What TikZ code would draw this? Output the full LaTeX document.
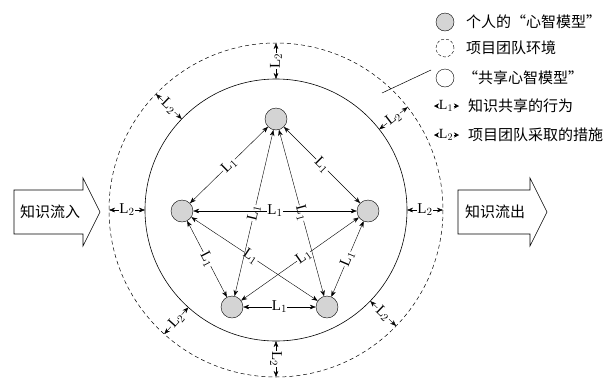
\documentclass[tikz,border=0pt]{standalone}
\usepackage{fontspec}
\setmainfont{Liberation Serif}
\newfontfamily\cjk{Noto Sans CJK SC}
\usetikzlibrary{arrows.meta,calc}
\begin{document}
\begin{tikzpicture}[x=1pt,y=-1pt,
  tip/.style={{Stealth[length=6pt,width=4.6pt]}-{Stealth[length=6pt,width=4.6pt]}},
  mind/.style={circle,draw,fill=black!17,minimum size=22pt,inner sep=0pt},
  lab/.style={fill=white,inner sep=0.4pt,font=\fontsize{15}{15}\selectfont,sloped},
  cn/.style={font=\cjk\fontsize{15}{15}\selectfont,inner sep=0pt},
  bigarrow/.style={draw,fill=white,line width=0.6pt},
  ktip/.style={-{Stealth[length=5pt,width=5pt]}}]
\useasboundingbox (0,0) rectangle (614,381);
% circles
\coordinate (C) at (276,210);
\draw[line width=0.6pt] (C) circle[radius=131];
\draw[dashed,line width=0.5pt,dash pattern=on 4pt off 3pt] (C) circle[radius=167];
% mind nodes
\node[mind] (T) at (276,119) {};
\node[mind] (Lf) at (182,211) {};
\node[mind] (Rt) at (368,211) {};
\node[mind] (BL) at (232,307) {};
\node[mind] (BR) at (327,307) {};
% L1 edges
\draw[tip] (T) -- node[lab]{L$_1$} (Lf);
\draw[tip] (T) -- node[lab]{L$_1$} (Rt);
\draw[tip] (Lf) -- node[lab]{L$_1$} (BL);
\draw[tip] (Rt) -- node[lab]{L$_1$} (BR);
\draw[tip] (BL) -- node[lab]{L$_1$} (BR);
\draw[tip] (Lf) -- node[lab,pos=0.47]{L$_1$} (BR);
\draw[tip] (Rt) -- node[lab,pos=0.47]{L$_1$} (BL);
\draw[tip] (T) -- node[lab]{L$_1$} (BL);
\draw[tip] (T) -- node[lab]{L$_1$} (BR);
\draw[tip] (Lf) -- node[lab]{L$_1$} (Rt);
% L2 arrows
\foreach \a/\n in {90/a,-90/b,0/c,180/d,-38/e,-136/f,132/g,44/h}{
  \coordinate (i\n) at ($(C)+(\a:131)$);
  \coordinate (o\n) at ($(C)+(\a:167)$);
  \draw[tip] (i\n) -- node[lab]{L$_2$} (o\n);
}
% big arrows
\draw[bigarrow] (14,190) -- (83,190) -- (83,178) -- (100,212) -- (83,246) -- (83,234) -- (14,234) -- cycle;
\node[cn] (in) at (50,212) {知识流入};
\draw[bigarrow] (458,190) -- (530,190) -- (530,178) -- (547,212) -- (530,246) -- (530,234) -- (458,234) -- cycle;
\node[cn] (out) at (495,212) {知识流出};
% legend
\node[circle,draw,fill=black!17,minimum size=18pt,inner sep=0pt] (g1) at (445,22) {};
\node[cn,anchor=west] (t1) at (466,22) {个人的“心智模型”};
\node[circle,draw,dashed,dash pattern=on 3pt off 2pt,minimum size=18pt,inner sep=0pt] (g2) at (445,48) {};
\node[cn,anchor=west] (t2) at (466,48) {项目团队环境};
\node[circle,draw,minimum size=18pt,inner sep=0pt] (g3) at (445,78) {};
\node[cn,anchor=west] (t3) at (463,78) {“共享心智模型”};
\coordinate (ls) at (382,93);
\coordinate (le) at (431,70);
\draw[line width=0.5pt] (ls) -- (le);
\node[inner sep=0.5pt,font=\fontsize{14}{14}\selectfont] (k1) at (446,106) {L$_1$};
\coordinate (k1a) at (434,106); \coordinate (k1b) at (459,106);
\draw[ktip] (k1) -- (k1a);
\draw[ktip] (k1) -- (k1b);
\node[cn,anchor=west] (t4) at (468,106) {知识共享的行为};
\node[inner sep=0.5pt,font=\fontsize{14}{14}\selectfont] (k2) at (446,135) {L$_2$};
\coordinate (k2a) at (434,135); \coordinate (k2b) at (459,135);
\draw[ktip] (k2) -- (k2a);
\draw[ktip] (k2) -- (k2b);
\node[cn,anchor=west] (t5) at (468,135) {项目团队采取的措施};
\end{tikzpicture}
\end{document}
